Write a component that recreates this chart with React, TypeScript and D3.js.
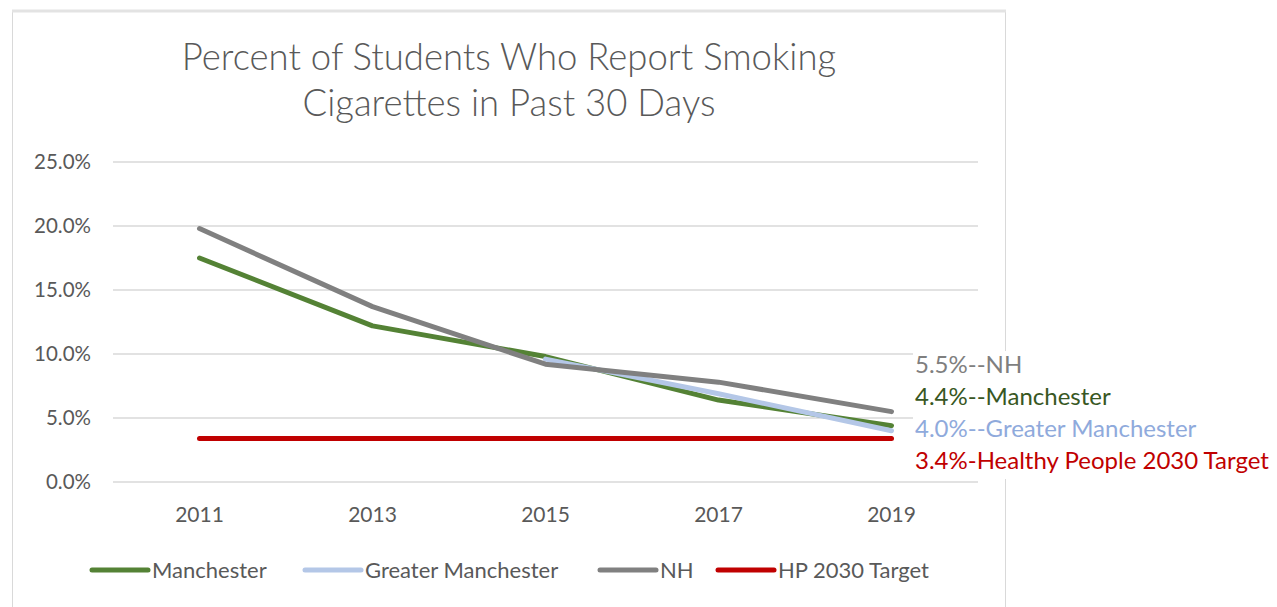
import React from 'react';
import * as d3 from 'd3';

// chart values
const years = ['2011', '2013', '2015', '2017', '2019'];
const manchester = [17.5, 12.2, 9.8, 6.4, 4.4];
const greaterManchester = [null, null, 9.6, 6.9, 4.0];
const nh = [19.8, 13.7, 9.2, 7.8, 5.5];
const hpTarget = [3.4, 3.4, 3.4, 3.4, 3.4];
const yTicks = [0, 5, 10, 15, 20, 25];

const seriesNames = ['Manchester', 'Greater Manchester', 'NH', 'HP 2030 Target'];
const seriesColors = ['#548235', '#b4c7e7', '#808080', '#c00000'];
const notes = ['5.5%--NH', '4.4%--Manchester', '4.0%--Greater Manchester', '3.4%-Healthy People 2030 Target'];
const noteColors = ['#7f7f7f', '#385723', '#8faadc', '#c00000'];

const W = 1277;
const H = 607;
const font = 'Lato, "Open Sans", sans-serif';

const App = () => {
  // x is a band scale, points sit in the middle of each band
  const x = d3.scaleBand().domain(years).range([113, 978]);
  const y = d3.scaleLinear().domain([0, 25]).range([482, 162]);

  const line = d3.line<number | null>()
    .defined(d => d != null)
    .x((d, i) => x(years[i])! + x.bandwidth() / 2)
    .y(d => y(d as number));

  const allSeries = [manchester, greaterManchester, nh, hpTarget];

  return (
    <svg width={W} height={H} style={{ position: 'absolute', left: 0, top: 0 }}>
      <rect x={0} y={0} width={W} height={H} fill="#fff" />
      {/* chart frame */}
      <rect x={12.5} y={11.5} width={993} height={620} fill="none" stroke="#d9d9d9" />
      <line x1={12} x2={1006} y1={11} y2={11} stroke="#e3e3e3" strokeWidth={3} />

      <text x={509} y={70} textAnchor="middle" fontFamily={font} fontWeight={300} fontSize={36.5} fill="#595959">
        Percent of Students Who Report Smoking
      </text>
      <text x={509} y={116} textAnchor="middle" fontFamily={font} fontWeight={300} fontSize={36.5} fill="#595959">
        Cigarettes in Past 30 Days
      </text>

      {/* gridlines + y labels */}
      {yTicks.map(t => (
        <g key={t}>
          <line x1={113} x2={978} y1={y(t)} y2={y(t)} stroke="#d9d9d9" strokeWidth={1.5} />
          <text x={91} y={y(t) + 7} textAnchor="end" fontFamily={font} fontSize={20.5} fill="#595959">
            {t.toFixed(1)}%
          </text>
        </g>
      ))}

      {years.map(yr => (
        <text key={yr} x={x(yr)! + x.bandwidth() / 2} y={522} textAnchor="middle" fontFamily={font} fontSize={21} fill="#595959">
          {yr}
        </text>
      ))}

      {allSeries.map((s, i) => (
        <path key={i} d={line(s) || ''} fill="none" stroke={seriesColors[i]} strokeWidth={5}
          strokeLinecap="round" strokeLinejoin="round" />
      ))}

      {/* legend */}
      {[92, 305, 600, 718].map((lx, i) => (
        <g key={i}>
          <line x1={lx} x2={lx + 56} y1={570} y2={570} stroke={seriesColors[i]} strokeWidth={5} strokeLinecap="round" />
          <text x={lx + 60} y={578} fontFamily={font} fontSize={22} fill="#595959">{seriesNames[i]}</text>
        </g>
      ))}

      {/* end-of-line notes in a white text box */}
      <rect x={913} y={351} width={364} height={128} fill="#fff" />
      {notes.map((n, i) => (
        <text key={i} x={915} y={373 + i * 32} fontFamily={font} fontSize={24} fill={noteColors[i]}>{n}</text>
      ))}
    </svg>
  );
};

export default App;
